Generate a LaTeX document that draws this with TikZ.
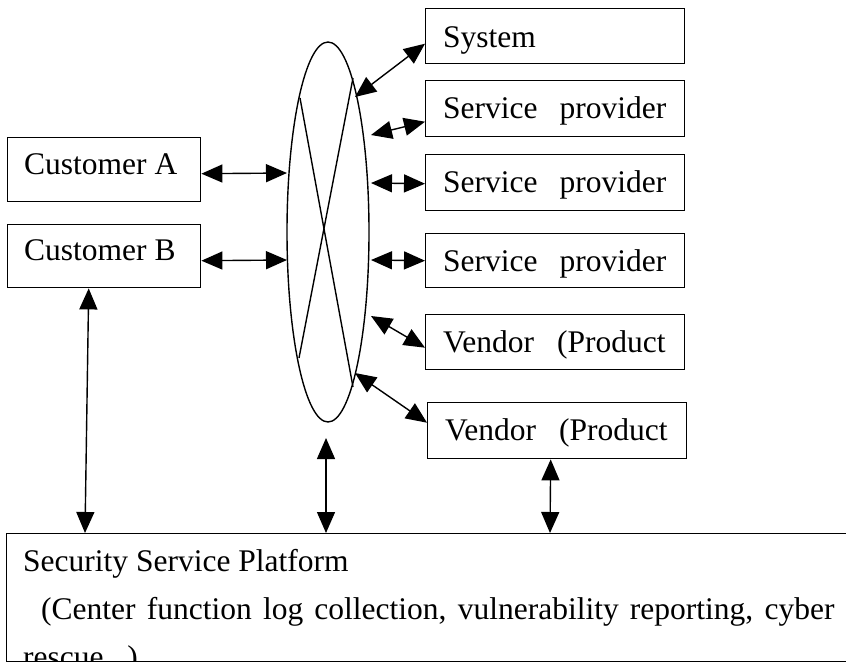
\documentclass[tikz,border=0pt]{standalone}
\usepackage{fontspec}
\setmainfont{Liberation Serif}
\usetikzlibrary{arrows.meta,shapes.geometric,calc}

\begin{document}
\begin{tikzpicture}[x=1pt,y=-1pt,
  box/.style={draw,line width=1.4pt,rectangle,anchor=north west,inner sep=0pt},
  lbl/.style={anchor=base west,inner sep=0pt,font=\fontsize{31.5}{38}\selectfont},
  link/.style={line width=1.4pt,{Triangle[length=21pt,width=18pt]}-{Triangle[length=21pt,width=18pt]}}
]
\useasboundingbox (0,0) rectangle (846,662);

% right-hand column of boxes
\node[box,minimum width=259pt,minimum height=55pt] (sys) at (425,8) {};
\node[box,minimum width=259pt,minimum height=56pt] (sp1) at (425,80) {};
\node[box,minimum width=259pt,minimum height=56pt] (sp2) at (425,154) {};
\node[box,minimum width=259pt,minimum height=54pt] (sp3) at (425,233) {};
\node[box,minimum width=259pt,minimum height=55pt] (ven1) at (425,314) {};
\node[box,minimum width=259pt,minimum height=56pt] (ven2) at (427,402) {};

\node[lbl] (sys-t) at (443,47) {System};
\node[lbl] (sp1-t) at (443,118) {Service\hspace{14pt} provider};
\node[lbl] (sp2-t) at (443,192) {Service\hspace{14pt} provider};
\node[lbl] (sp3-t) at (443,271) {Service\hspace{14pt} provider};
\node[lbl] (ven1-t) at (443,352) {Vendor\hspace{15pt} (Product};
\node[lbl] (ven2-t) at (445,440) {Vendor\hspace{15pt} (Product};

% customers
\node[box,minimum width=193pt,minimum height=64pt] (ca) at (7,137) {};
\node[box,minimum width=193pt,minimum height=63pt] (cb) at (7,224) {};
\node[lbl] (ca-t) at (24,174) {Customer A};
\node[lbl] (cb-t) at (24,260) {Customer B};

% central hub
\node[draw,ellipse,line width=1.4pt,minimum width=82pt,minimum height=380pt,inner sep=0pt] (hub) at (328,232) {};
\draw[line width=1.4pt] (353,78) -- (299,358);
\draw[line width=1.4pt] (300,98) -- (353,387);

% platform
\node[box,minimum width=850pt,minimum height=127.5pt] (plat) at (6,533) {};
\begin{scope}
  \clip (plat.north west) rectangle (plat.south east);
  \node[lbl] (plat-t1) at (23,571) {Security Service Platform};
  \node[lbl] (plat-t2) at (41,619) {\spaceskip=11.2pt (Center function log collection, vulnerability reporting, cyber};
  \node[lbl] (plat-t3) at (23,667) {rescue...)};
\end{scope}

% hub-side ends of the links
\coordinate (hS)  at (355,97);
\coordinate (h1)  at (371,135);
\coordinate (h2)  at (371,183);
\coordinate (h3)  at (371,260);
\coordinate (h4)  at (371,316);
\coordinate (h5)  at (355,373);
\coordinate (hA)  at (287,173);
\coordinate (hB)  at (287,260);
\coordinate (hD)  at (326,438);

\draw[link] (hS) -- ([yshift=-7.5pt]sys.west);
\draw[link] (h1) -- ([yshift=-13pt]sp1.west);
\draw[link] (h2) -- ([yshift=-1pt]sp2.west);
\draw[link] (h3) -- (sp3.west);
\draw[link] (h4) -- ([yshift=-5.5pt]ven1.west);
\draw[link] (h5) -- ([yshift=8pt]ven2.west);
\draw[link] ([yshift=-4pt]ca.east) -- (hA);
\draw[link] ([yshift=-4.5pt]cb.east) -- (hB);

\draw[link] ([xshift=-15.5pt]cb.south) -- (plat.north west -| 85,0);
\draw[link] (hD) -- (plat.north west -| hD);
\draw[link] ([xshift=-6.5pt]ven2.south) -- (plat.north west -| 550,0);
\end{tikzpicture}
\end{document}
